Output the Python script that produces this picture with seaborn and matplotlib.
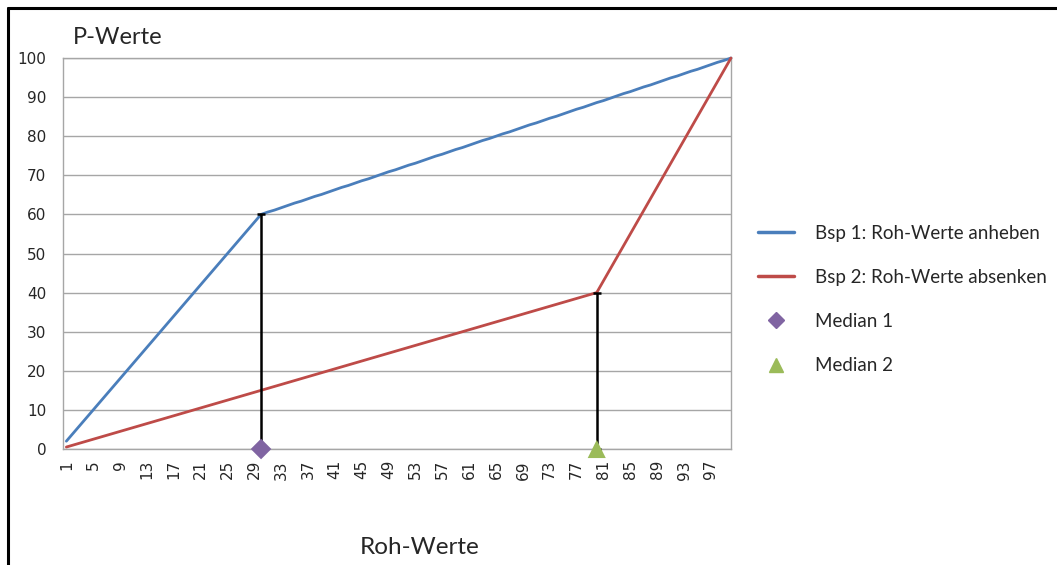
import matplotlib
matplotlib.use("Agg")
import matplotlib.pyplot as plt
from matplotlib.lines import Line2D
import numpy as np
import pandas as pd
import seaborn as sns

# Raw score categories
roh_werte = list(range(1, 101))

# Example 1: raise raw scores (P-values)
bsp1 = [2, 4, 6, 8, 10, 12, 14, 16, 18, 20,
        22, 24, 26, 28, 30, 32, 34, 36, 38, 40,
        42, 44, 46, 48, 50, 52, 54, 56, 58, 60,
        60.6, 61.1, 61.7, 62.3, 62.9, 63.4, 64.0,
        64.6, 65.1, 65.7, 66.3, 66.9, 67.4, 68.0,
        68.6, 69.1, 69.7, 70.3, 70.9, 71.4, 72.0,
        72.6, 73.1, 73.7, 74.3, 74.9, 75.4, 76.0,
        76.6, 77.1, 77.7, 78.3, 78.9, 79.4, 80.0,
        80.6, 81.1, 81.7, 82.3, 82.9, 83.4, 84.0,
        84.6, 85.1, 85.7, 86.3, 86.9, 87.4, 88.0,
        88.6, 89.1, 89.7, 90.3, 90.9, 91.4, 92.0,
        92.6, 93.1, 93.7, 94.3, 94.9, 95.4, 96.0,
        96.6, 97.1, 97.7, 98.3, 98.9, 99.4, 100.0]

# Example 2: lower raw scores (P-values)
bsp2 = [0.5, 1.0, 1.5, 2.0, 2.5, 3.0, 3.5, 4.0, 4.5, 5.0,
        5.5, 6.0, 6.5, 7.0, 7.5, 8.0, 8.5, 9.0, 9.5, 10.0,
        10.5, 11.0, 11.5, 12.0, 12.5, 13.0, 13.5, 14.0, 14.5, 15.0,
        15.5, 16.0, 16.5, 17.0, 17.5, 18.0, 18.5, 19.0, 19.5, 20.0,
        20.5, 21.0, 21.5, 22.0, 22.5, 23.0, 23.5, 24.0, 24.5, 25.0,
        25.5, 26.0, 26.5, 27.0, 27.5, 28.0, 28.5, 29.0, 29.5, 30.0,
        30.5, 31.0, 31.5, 32.0, 32.5, 33.0, 33.5, 34.0, 34.5, 35.0,
        35.5, 36.0, 36.5, 37.0, 37.5, 38.0, 38.5, 39.0, 39.5, 40.0,
        43, 46, 49, 52, 55, 58, 61, 64, 67, 70,
        73, 76, 79, 82, 85, 88, 91, 94, 97, 100]

# Medians (raw score position, P-value reached there)
median_x = [30, 80]
median_top = [60, 40]
median_names = ["Median 1", "Median 2"]

series_names = ["Bsp 1: Roh-Werte anheben", "Bsp 2: Roh-Werte absenken"]
y_ticks = [0, 10, 20, 30, 40, 50, 60, 70, 80, 90, 100]

BLUE = "#4A7EBB"
RED = "#BE4B48"
PURPLE = "#8064A2"
GREEN = "#9BBB59"
GRID = "#A6A6A6"

sns.set_style("white")
plt.rcParams["font.family"] = ["DejaVu Sans"]

fig = plt.figure(figsize=(10.57, 5.65), dpi=100)
ax = fig.add_axes([63 / 1057, 1 - 449 / 565, (731 - 63) / 1057, (449 - 58) / 565])

df = pd.DataFrame({
    "Roh": roh_werte * 2,
    "P": bsp1 + bsp2,
    "Serie": [series_names[0]] * 100 + [series_names[1]] * 100,
})
sns.lineplot(data=df, x="Roh", y="P", hue="Serie",
             palette=[BLUE, RED], linewidth=2.0, ax=ax, legend=False,
             clip_on=False, zorder=3)

# Drop lines from the medians up to the curves
for mx, mt in zip(median_x, median_top):
    ax.errorbar([mx], [0], yerr=[[0], [mt]], fmt="none", ecolor="black",
                elinewidth=1.8, capsize=3, capthick=1.8, zorder=4, clip_on=False)

sns.scatterplot(x=[median_x[0]], y=[0], marker="D", s=110, color=PURPLE,
                edgecolor="none", ax=ax, zorder=5, clip_on=False)
sns.scatterplot(x=[median_x[1]], y=[0], marker="^", s=170, color=GREEN,
                edgecolor="none", ax=ax, zorder=5, clip_on=False)

ax.set_xlim(0.5, 100)
ax.set_ylim(0, 100)
ax.set_yticks(y_ticks)
ax.set_yticklabels([str(v) for v in y_ticks], fontsize=11)
ax.set_xticks(roh_werte, minor=True)
ax.set_xticks(roh_werte[::4])
ax.set_xticklabels([str(v) for v in roh_werte[::4]], rotation=90, fontsize=11)
ax.tick_params(axis="x", which="both", length=5, color=GRID, width=1, direction="out", pad=3)
ax.tick_params(axis="y", length=5, color=GRID, width=1, direction="out", pad=7)
ax.grid(axis="y", color=GRID, linewidth=1)
ax.set_axisbelow(True)
for sp in ax.spines.values():
    sp.set_color(GRID)
    sp.set_linewidth(1)
ax.set_xlabel("")
ax.set_ylabel("")

# Axis titles
fig.text(73 / 1057, 1 - 37 / 565, "P-Werte", fontsize=17, family="Lato",
         ha="left", va="center")
fig.text(420 / 1057, 1 - 547 / 565, "Roh-Werte", fontsize=17.5, family="Lato",
         ha="center", va="center")

# Legend
handles = [
    Line2D([], [], color=BLUE, linewidth=2.5),
    Line2D([], [], color=RED, linewidth=2.5),
    Line2D([], [], color=PURPLE, marker="D", linestyle="none", markersize=8),
    Line2D([], [], color=GREEN, marker="^", linestyle="none", markersize=10),
]
fig.legend(handles, series_names + median_names, loc="upper left",
           bbox_to_anchor=(750 / 1057, 1 - 217 / 565), frameon=False,
           prop={"family": "Lato", "size": 13.5}, handlelength=1.95,
           handletextpad=1.1, labelspacing=1.45, borderaxespad=0)

# Outer frame (top and left edges)
fig.add_artist(Line2D([8 / 1057, 1.0], [1 - 8 / 565, 1 - 8 / 565],
                      transform=fig.transFigure, color="black", linewidth=2.2))
fig.add_artist(Line2D([8 / 1057, 8 / 1057], [1 - 8 / 565, 0.0],
                      transform=fig.transFigure, color="black", linewidth=2.2))

fig.savefig("out.png", dpi=100)
